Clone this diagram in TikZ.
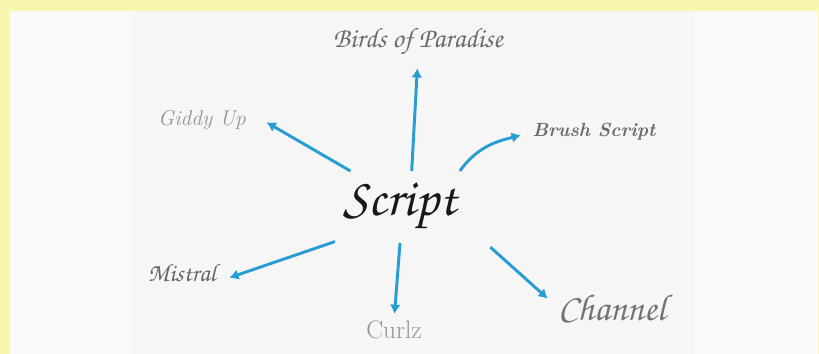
\documentclass[tikz,border=0pt]{standalone}
\usetikzlibrary{arrows.meta, positioning, backgrounds}
\definecolor{paleyellow}{RGB}{249,246,176}
\definecolor{panelgray}{RGB}{249,249,249}
\definecolor{panelmid}{RGB}{246,246,246}
\definecolor{arrowblue}{RGB}{38,158,212}
\newcommand{\chancery}{\fontencoding{OT1}\fontfamily{pzc}\fontseries{mb}\fontshape{it}\selectfont}
\newcommand{\fsz}[1]{\fontsize{#1}{#1}\selectfont}
\tikzset{
    base/.style={inner sep=0pt, outer sep=0pt, text=black!58},
    hand/.style={base, font=\chancery},
    line/.style={draw=arrowblue, line width=2.2pt, -{Latex[length=7pt, width=8pt]}}
}
\begin{document}
\begin{tikzpicture}[x=0.75pt, y=-0.75pt]
    % page and panels
    \fill [paleyellow] (0,0) rectangle (819,354);
    \fill [panelgray] (10,11) rectangle (818,354);
    \fill [panelmid] (133,11) rectangle (695,354);
    \useasboundingbox (0,0) rectangle (819,354);

    \node [hand, text=black!90, minimum width=130*0.75pt, minimum height=72*0.75pt] (Script) at (400,207) {\fsz{40}Script};

    \node [hand] (Birds) at (418,42) {\fsz{21}Birds of Paradise};
    \node [base, text=black!42, font=\itshape\fsz{16}] (Giddy) at (202,120) {Giddy Up};
    \node [base, font=\bfseries\itshape\fsz{14.3}] (Brush) at (594,132) {Brush Script};
    \node [hand, text=black!60] (Mistral) at (182,273) {\fsz{19}Mistral};
    \node [base, text=black!42, font=\fsz{19}] (Curlz) at (394,330) {Curlz};
    \node [hand, text=black!55] (Channel) at (612,308) {\fsz{28}Channel};

    \draw [line, shorten >=12*0.75pt] (Script.72) -- (Birds.south);
    \draw [line, shorten >=24*0.75pt] (Script.144) -- (Giddy.north east);
    \draw [line, shorten >=12*0.75pt] (Script.31) to [out=55, in=195] (Brush.west);
    \draw [line, shorten >=14*0.75pt] (Script.208) -- (Mistral.south east);
    \draw [line, shorten >=7*0.75pt] (Script.270) -- (Curlz.north);
    \draw [line, shorten <=34*0.75pt, shorten >=14*0.75pt] (Script.-15) -- (Channel.west);
\end{tikzpicture}
\end{document}
